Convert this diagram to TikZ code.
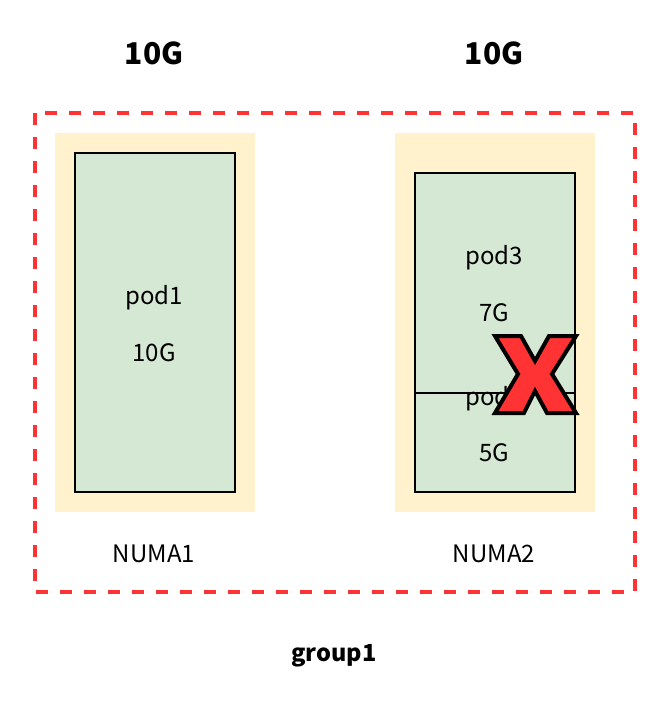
\documentclass[tikz,border=0pt]{standalone}
\usepackage{fontspec}
\setmainfont{Noto Sans CJK SC}
\definecolor{numafill}{HTML}{FFF2CC}
\definecolor{podfill}{HTML}{D5E8D4}
\definecolor{groupred}{HTML}{FF3333}
\begin{document}
\begin{tikzpicture}[x=1pt,y=-1pt]
\tikzstyle{numa}=[fill=numafill,inner sep=0pt,minimum width=200pt,minimum height=379pt]
\tikzstyle{pod}=[draw,fill=podfill,line width=2pt,inner sep=0pt,minimum width=160pt]
\tikzstyle{txt}=[font=\fontsize{24}{28}\selectfont,inner sep=0pt]
\tikzstyle{big}=[font=\fontsize{30}{34}\selectfont\bfseries,inner sep=0pt]
\tikzstyle{cross}=[fill=groupred,draw=black,line width=4pt,line join=miter]
\useasboundingbox (0,0) rectangle (668,714);
\draw[groupred,line width=3.5pt,dash pattern=on 12pt off 12pt] (35,113) rectangle (635,592);
% NUMA nodes
\node[numa] (numa1) at (155,322.5) {};
\node[numa] (numa2) at (495,322.5) {};
\node[pod,minimum height=339pt] (pod1) at (155,322.5) {};
\node[pod,minimum height=220pt] (pod3) at (495,283) {};
\node[pod,minimum height=99pt] (pod4) at (495,442.5) {};
% labels
\node[big] (cap1) at (154,53) {10G};
\node[big] (cap2) at (494,53) {10G};
\node[txt] (pod1name) at (154,298) {pod1};
\node[txt] (pod1size) at (154,353) {10G};
\node[txt] (pod3name) at (494,258) {pod3};
\node[txt] (pod3size) at (494,313) {7G};
\node[txt] (pod4name) at (494,399) {pod4};
\node[txt] (pod4size) at (494,453) {5G};
\node[txt] (numa1name) at (154,554) {NUMA1};
\node[txt] (numa2name) at (494,554) {NUMA2};
\node[txt,font=\fontsize{23.5}{28}\selectfont\bfseries] (group) at (334,656) {group1};
% the cross
\draw[cross] (495,336) -- (521,336) -- (535,361) -- (549,336) -- (576,336)
  -- (552,374) -- (576,413) -- (547,413) -- (535,391) -- (524,413)
  -- (495,413) -- (518,374) -- cycle;
\end{tikzpicture}
\end{document}
